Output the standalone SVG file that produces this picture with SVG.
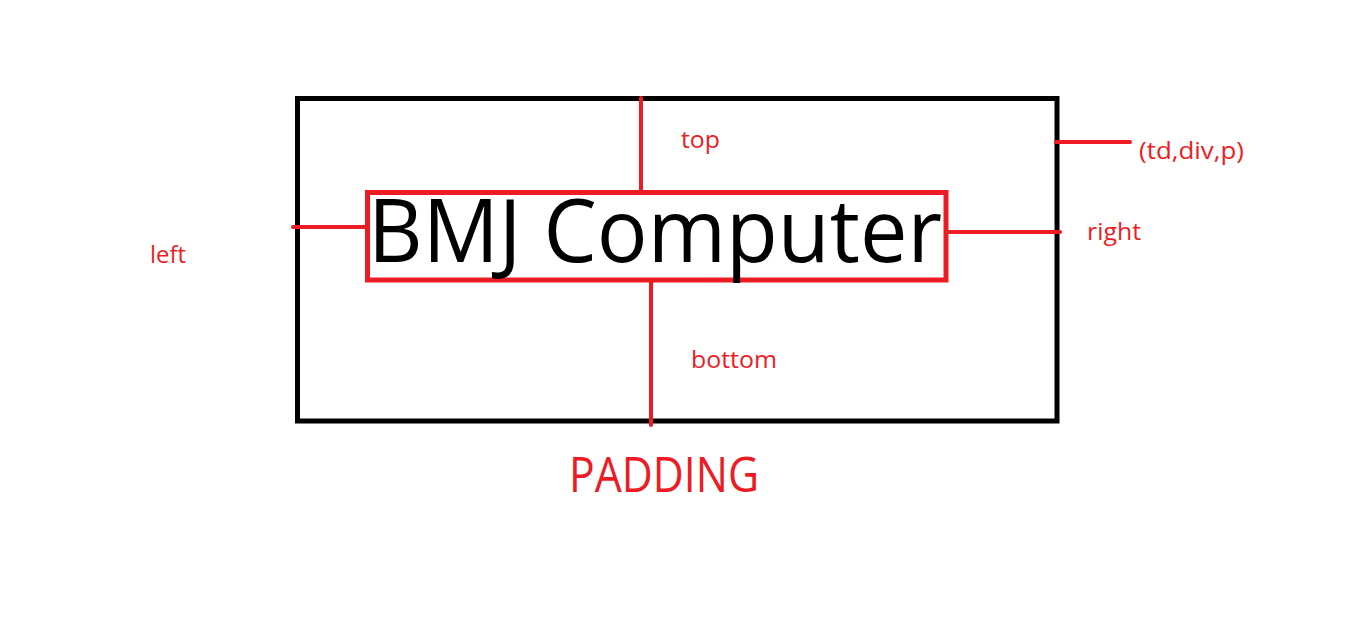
<svg xmlns="http://www.w3.org/2000/svg" width="1360" height="622" viewBox="0 0 1360 622">
<style>
.lbl{font-family:"Open Sans","Noto Sans",sans-serif;fill:#ed1c24;}
.ln{stroke:#ed1c24;stroke-width:4;stroke-linecap:round;fill:none;}
</style>
<rect width="1360" height="622" fill="#ffffff"/>
<g id="outer-box">
<rect x="297.5" y="98.5" width="759.5" height="322.5" fill="none" stroke="#000000" stroke-width="5"/>
</g>
<g id="content-box">
<rect x="367.5" y="192.5" width="578.5" height="87.5" fill="none" stroke="#ed1c24" stroke-width="5"/>
<text x="368" y="262" font-family="Open Sans, Noto Sans, sans-serif" font-size="87" fill="#000000" textLength="574" lengthAdjust="spacingAndGlyphs">BMJ Computer</text>
</g>
<g id="connectors">
<line class="ln" x1="641" y1="98" x2="641" y2="192"/>
<line class="ln" x1="293" y1="227" x2="368" y2="227"/>
<line class="ln" x1="948" y1="232" x2="1060" y2="232"/>
<line class="ln" x1="651" y1="280" x2="651" y2="425"/>
<line class="ln" x1="1056" y1="142" x2="1130" y2="142"/>
</g>
<g id="labels">
<text class="lbl" x="681" y="148" font-size="23.5" textLength="39" lengthAdjust="spacingAndGlyphs">top</text>
<text class="lbl" x="150" y="263" font-size="23.5" textLength="36" lengthAdjust="spacingAndGlyphs">left</text>
<text class="lbl" x="1087" y="240" font-size="23.5" textLength="54" lengthAdjust="spacingAndGlyphs">right</text>
<text class="lbl" x="691" y="368" font-size="23.5" textLength="86" lengthAdjust="spacingAndGlyphs">bottom</text>
<text class="lbl" x="1139" y="159" font-size="23.5" textLength="105" lengthAdjust="spacingAndGlyphs">(td,div,p)</text>
<text class="lbl" x="569" y="492" font-size="50" textLength="190" lengthAdjust="spacingAndGlyphs">PADDING</text>
</g>
</svg>
